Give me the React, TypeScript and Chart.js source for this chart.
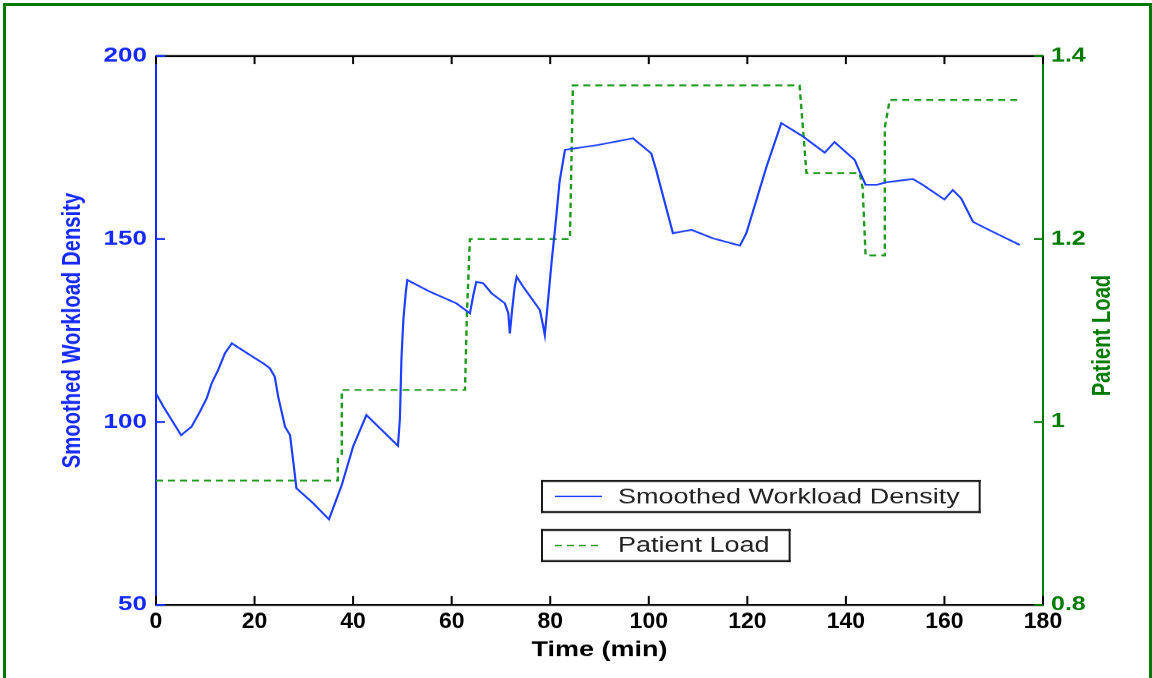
import React, { useEffect, useRef } from "react";
import { Chart, registerables } from "chart.js";

Chart.register(...registerables);

// ---------- data ----------
const workloadTime = [
  0, 1.5, 5.1, 7.2, 8.9, 10.3, 11.3, 12.6, 14.0, 15.4, 19.1, 21.8, 23.1, 24.1, 24.8,
  26.2, 27.2, 27.9, 28.5, 31.9, 35.1, 37.7, 40.0, 42.7, 49.1, 49.5, 49.8, 50.2, 50.7,
  51.0, 55.6, 61.0, 63.7, 64.4, 65.0, 66.4, 68.1, 70.8, 71.5, 71.8, 72.3, 72.8, 73.2,
  74.5, 77.9, 78.6, 78.9, 79.6, 80.3, 81.1, 81.9, 83.0, 89.7, 96.8, 100.5, 101.5,
  104.9, 108.7, 113.0, 118.5, 119.8, 123.9, 126.9, 131.3, 135.7, 137.7, 141.8, 142.8,
  144.0, 146.2, 148.2, 153.6, 155.6, 160.0, 161.7, 163.4, 165.8, 167.1, 171.9, 175.3,
];
const workloadValue = [
  107.8, 104.2, 96.4, 98.7, 102.8, 106.5, 110.6, 114.2, 118.8, 121.5, 118.3, 116.0,
  114.7, 112.4, 106.9, 98.7, 96.4, 88.7, 81.9, 77.8, 73.4, 82.8, 93.3, 101.9, 93.5,
  101.0, 117.0, 128.0, 135.6, 138.8, 135.6, 132.4, 129.7, 134.7, 138.3, 137.9, 135.2,
  132.4, 129.7, 124.2, 131.0, 137.0, 139.7, 137.0, 130.6, 126.0, 123.8, 133.8, 144.0,
  154.3, 165.7, 174.4, 175.7, 177.5, 173.4, 168.9, 151.6, 152.5, 150.2, 148.2, 151.6,
  169.8, 181.7, 178.0, 173.6, 176.5, 171.6, 168.4, 164.8, 164.8, 165.5, 166.4, 164.8,
  160.8, 163.4, 161.1, 154.7, 153.8, 150.6, 148.4,
];

const loadTime = [
  0, 36.9, 36.9, 37.7, 37.7, 62.7, 63.1, 63.7, 84.0, 84.6, 130.6, 132.0, 142.8, 143.4,
  144.0, 147.9, 147.9, 148.9, 175.3,
];
const loadValue = [
  0.936, 0.936, 0.96, 0.965, 1.035, 1.035, 1.119, 1.2, 1.2, 1.368, 1.368, 1.272, 1.272,
  1.256, 1.182, 1.182, 1.322, 1.352, 1.352,
];

const timeTicks = [0, 20, 40, 60, 80, 100, 120, 140, 160, 180];
const timeTickLabels = ["0", "20", "40", "60", "80", "100", "120", "140", "160", "180"];
const workloadTicks = [50, 100, 150, 200];
const workloadTickLabels = ["50", "100", "150", "200"];
const loadTicks = [0.8, 1.0, 1.2, 1.4];
const loadTickLabels = ["0.8", "1", "1.2", "1.4"];

const seriesNames = ["Smoothed Workload Density", "Patient Load"];
const axisTitles = { x: "Time (min)", left: "Smoothed Workload Density", right: "Patient Load" };

// ---------- styling ----------
const W = 1152;
const HD = 678; // displayed height
const H = 870; // internal canvas height (vertically squashed when displayed)
const K = HD / H;

const SANS = "'Liberation Sans', Arial, sans-serif";
const BLUE_TXT = "#1428ff";
const BLUE_LINE = "#1f3fff";
const GREEN_TXT = "#007a00";
const GREEN_LINE = "#1f9a1f";

const AREA_TOP = 56 / K;
const AREA_BOTTOM = 605 / K;
const X_TICK_SIZE = 23;
const X_TICK_PAD = 7.3;

const tickMarksPlugin = {
  id: "innerTicks",
  afterDraw(chart: any) {
    const { ctx, chartArea: a, scales } = chart;
    ctx.save();
    // top frame line
    ctx.fillStyle = "#000";
    ctx.fillRect(a.left, a.top - 1.25, a.right - a.left, 2.5);
    const xs = scales.x;
    xs.ticks.forEach((_t: any, i: number) => {
      const px = xs.getPixelForTick(i);
      ctx.fillStyle = "#000";
      ctx.fillRect(px - 1, a.top, 2, 8 / K);
      ctx.fillRect(px - 1, a.bottom - 9 / K, 2, 9 / K);
    });
    const yl = scales.y;
    yl.ticks.forEach((_t: any, i: number) => {
      const py = yl.getPixelForTick(i);
      ctx.fillStyle = BLUE_TXT;
      ctx.fillRect(a.left, py - 1.25, 9, 2.5);
    });
    const yr = scales.y1;
    yr.ticks.forEach((_t: any, i: number) => {
      const py = yr.getPixelForTick(i);
      ctx.fillStyle = GREEN_TXT;
      ctx.fillRect(a.right - 9, py - 1.25, 9, 2.5);
    });
    ctx.restore();
  },
};

const rightTitlePlugin = {
  id: "rightTitle",
  afterDraw(chart: any) {
    const { ctx, chartArea: a, scales } = chart;
    ctx.save();
    ctx.translate(scales.y1.right - 49.5, (a.top + a.bottom) / 2 + 5 / K);
    ctx.rotate(-Math.PI / 2);
    ctx.font = `bold 26px ${SANS}`;
    ctx.fillStyle = GREEN_TXT;
    ctx.textAlign = "center";
    ctx.textBaseline = "middle";
    ctx.fillText(axisTitles.right, 0, 0);
    ctx.restore();
  },
};

const boxLegendPlugin = {
  id: "boxLegend",
  afterDraw(chart: any) {
    const { ctx, chartArea: a } = chart;
    ctx.save();
    ctx.font = `27px ${SANS}`;
    const left = a.left + 385;
    const rows = [
      { top: a.top + (480 - 56) / K, ds: 0 },
      { top: a.top + (529 - 56) / K, ds: 1 },
    ];
    const h = 33 / K;
    rows.forEach((r) => {
      const ds = chart.data.datasets[r.ds];
      const text = ds.label as string;
      const w = 77 + ctx.measureText(text).width + 21;
      ctx.fillStyle = "#fff";
      ctx.fillRect(left, r.top, w, h);
      ctx.fillStyle = "#1a1a1a";
      ctx.fillRect(left, r.top, w, 2.5);
      ctx.fillRect(left, r.top + h - 2.5, w, 2.5);
      ctx.fillRect(left, r.top, 2, h);
      ctx.fillRect(left + w - 2, r.top, 2, h);
      const cy = r.top + h / 2;
      ctx.beginPath();
      ctx.setLineDash(ds.borderDash || []);
      ctx.strokeStyle = ds.borderColor;
      ctx.lineWidth = 2;
      ctx.moveTo(left + 14, cy);
      ctx.lineTo(left + 61, cy);
      ctx.stroke();
      ctx.setLineDash([]);
      ctx.fillStyle = "#222";
      ctx.textBaseline = "middle";
      ctx.textAlign = "left";
      ctx.fillText(text, left + 77, cy + 1);
    });
    ctx.restore();
  },
};

function lookup(values: number[], labels: string[]) {
  return (v: any) => {
    const i = values.findIndex((x) => Math.abs(x - Number(v)) < 1e-9);
    return i >= 0 ? labels[i] : "";
  };
}

// draw the x tick labels without the vertical squash (they are upright in the reference)
function unsquashXLabels(s: any) {
  if (s.__unsquashed) return;
  s.__unsquashed = true;
  const orig = s.drawLabels;
  s.drawLabels = function (area: any) {
    const ctx = this.ctx;
    const y0 = this.top + X_TICK_PAD + (X_TICK_SIZE * 1.2) / 2;
    ctx.save();
    ctx.translate(0, y0);
    ctx.scale(1, 1 / K);
    ctx.translate(0, -y0);
    orig.call(this, area);
    ctx.restore();
  };
}

export default function App() {
  const canvasRef = useRef<HTMLCanvasElement | null>(null);

  useEffect(() => {
    if (!canvasRef.current) return;
    const chart = new Chart(canvasRef.current, {
      type: "line",
      data: {
        datasets: [
          {
            label: seriesNames[0],
            data: workloadTime.map((t, i) => ({ x: t, y: workloadValue[i] })),
            borderColor: BLUE_LINE,
            borderWidth: 2.2,
            pointRadius: 0,
            tension: 0,
            fill: false,
            yAxisID: "y",
          },
          {
            label: seriesNames[1],
            data: loadTime.map((t, i) => ({ x: t, y: loadValue[i] })),
            borderColor: GREEN_LINE,
            borderWidth: 2.4,
            borderDash: [7, 5],
            pointRadius: 0,
            tension: 0,
            fill: false,
            yAxisID: "y1",
          },
        ],
      },
      options: {
        responsive: false,
        devicePixelRatio: 1,
        animation: false,
        events: [],
        layout: { padding: { top: AREA_TOP, left: 0, right: 0, bottom: 0 } },
        plugins: {
          legend: { display: false },
          tooltip: { enabled: false },
        },
        scales: {
          x: {
            type: "linear",
            position: "bottom",
            min: 0,
            max: 180,
            afterBuildTicks: (s: any) => {
              s.ticks = timeTicks.map((v) => ({ value: v }));
            },
            afterFit: (s: any) => {
              s.height = H - AREA_BOTTOM;
              unsquashXLabels(s);
            },
            ticks: {
              callback: lookup(timeTicks, timeTickLabels),
              autoSkip: false,
              maxRotation: 0,
              color: "#000",
              padding: X_TICK_PAD,
              font: { family: SANS, size: X_TICK_SIZE, weight: "bold" },
            },
            grid: { display: false, drawTicks: false },
            border: { display: true, color: "#000", width: 2.5 },
            title: {
              display: true,
              text: axisTitles.x,
              color: "#000",
              font: { family: SANS, size: 27, weight: "bold" },
              padding: { top: 0, bottom: 19.7 },
            },
          },
          y: {
            type: "linear",
            position: "left",
            min: 50,
            max: 200,
            afterBuildTicks: (s: any) => {
              s.ticks = workloadTicks.map((v) => ({ value: v }));
            },
            afterFit: (s: any) => {
              s.width = 156;
            },
            ticks: {
              callback: lookup(workloadTicks, workloadTickLabels),
              color: BLUE_TXT,
              padding: 9,
              font: { family: SANS, size: 26, weight: "bold" },
            },
            grid: { display: false, drawTicks: false },
            border: { display: true, color: BLUE_TXT, width: 2 },
            title: {
              display: true,
              text: axisTitles.left,
              color: BLUE_TXT,
              font: { family: SANS, size: 26, weight: "bold" },
              padding: { top: 56.9, bottom: 0 },
            },
          },
          y1: {
            type: "linear",
            position: "right",
            min: 0.8,
            max: 1.4,
            afterBuildTicks: (s: any) => {
              s.ticks = loadTicks.map((v) => ({ value: v }));
            },
            afterFit: (s: any) => {
              s.width = W - 1043;
            },
            ticks: {
              callback: lookup(loadTicks, loadTickLabels),
              color: GREEN_TXT,
              padding: 8,
              font: { family: SANS, size: 25, weight: "bold" },
            },
            grid: { display: false, drawTicks: false },
            border: { display: true, color: GREEN_TXT, width: 2 },
            title: { display: false },
          },
        },
      } as any,
      plugins: [tickMarksPlugin, rightTitlePlugin, boxLegendPlugin],
    });
    return () => chart.destroy();
  }, []);

  return (
    <div
      style={{
        position: "fixed",
        left: 0,
        top: 0,
        width: W,
        height: HD,
        background: "#fff",
        overflow: "hidden",
      }}
    >
      <canvas
        ref={canvasRef}
        width={W}
        height={H}
        style={{ position: "absolute", left: 0, top: 0, width: `${W}px`, height: `${HD}px` }}
      />
      <div
        style={{
          position: "absolute",
          left: 3,
          top: 3,
          width: 1149,
          height: 700,
          boxSizing: "border-box",
          border: "3px solid #007a00",
          borderBottom: "none",
          pointerEvents: "none",
        }}
      />
    </div>
  );
}
